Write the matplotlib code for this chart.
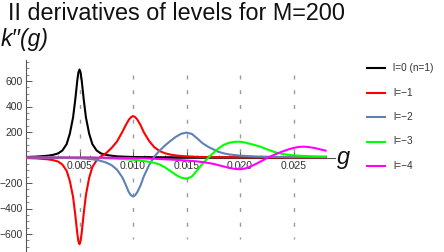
import matplotlib
matplotlib.use("Agg")
import matplotlib.pyplot as plt
from matplotlib.lines import Line2D
from matplotlib.ticker import MultipleLocator, FixedLocator

plt.rcParams['font.family'] = ['Liberation Sans', 'DejaVu Sans']
plt.rcParams['lines.scale_dashes'] = False

g = [0, .001, .002, .0025, .003, .0034, .0038, .0041, .0044, .0046, .0048, .0049,
     .005, .0051, .0052, .0054, .0056, .0059, .0062, .0066, .007, .0075, .008, .0085,
     .009, .0093, .0096, .0098, .010, .0102, .0104, .0107, .011, .0115, .012, .0125,
     .013, .0135, .014, .0145, .015, .0155, .016, .0165, .017, .0175, .018, .0185,
     .019, .0195, .020, .0205, .021, .0215, .022, .0225, .023, .0235, .024, .0245,
     .025, .0255, .026, .0265, .027, .0275, .028]

k_l0 = [4, 7, 14, 20, 32, 55, 105, 188, 315, 451, 609, 668,
        690, 668, 609, 451, 315, 188, 105, 55, 32, 20, 14, 9,
        7, 6, 5, 5, 4, 4, 4, 3, 3, 3, 2, 2,
        2, 2, 1, 1, 1, 1, 1, 1, 1, 1, 1, 1,
        1, 1, 1, .5, .5, .5, .5, .5, .5, .5, .5, .5,
        .5, .5, .5, .5, .5, .5, .5]

k_l1 = [-4, -7, -14, -20, -32, -55, -105, -185, -310, -445, -600, -658,
        -680, -655, -595, -435, -295, -160, -75, -22, 8, 35, 75, 125,
        200, 250, 295, 315, 325, 317, 298, 255, 200, 130, 80, 50,
        33, 23, 16, 12, 9, 7, 5, 4, 3, 3, 2, 2,
        2, 1, 1, 1, 1, 1, 1, 1, 1, .5, .5, .5,
        .5, .5, .5, .5, .5, .5, .5]

k_l2 = [-1, -1, -2, -2, -3, -3, -4, -4, -5, -5, -6, -6,
        -6, -6, -7, -8, -9, -11, -14, -19, -27, -40, -60, -95,
        -155, -210, -270, -296, -305, -296, -272, -220, -150, -60, 8, 55,
        95, 130, 162, 186, 195, 185, 150, 112, 85, 64, 44, 32,
        24, 19, 15, 12, 10, 8, 7, 6, 5, 4, 4, 3,
        3, 3, 2, 2, 2, 2, 2]

k_l3 = [0, 0, 0, 0, 0, 0, -.5, -.5, -.5, -1, -1, -1,
        -1, -1, -1, -1, -1.5, -2, -2, -3, -4, -6, -8, -10,
        -12, -14, -15, -16, -18, -19, -21, -24, -28, -34, -42, -55,
        -78, -106, -136, -158, -166, -150, -100, -48, -5, 35, 72, 100,
        116, 123, 124, 117, 106, 95, 82, 65, 50, 36, 28, 21,
        17, 14, 12, 10, 9, 8, 7]

k_l4 = [0, 0, 0, 0, 0, 0, 0, 0, 0, 0, 0, 0,
        0, 0, 0, 0, 0, 0, -.5, -1, -1, -2, -2, -3,
        -3, -4, -4, -5, -5, -5, -6, -6, -7, -8, -10, -12,
        -14, -16, -18, -21, -24, -27, -31, -36, -42, -50, -60, -71,
        -81, -89, -92, -86, -70, -50, -28, -6, 14, 32, 48, 63,
        75, 83, 85, 81, 74, 64, 54]

series = [k_l0, k_l1, k_l2, k_l3, k_l4]
labels = ["l=0 (n=1)", "l=\u22121", "l=\u22122", "l=\u22123", "l=\u22124"]
colors = ["#000000", "#FF0000", "#5E81B5", "#00FF00", "#FF00FF"]

xticks = [0.005, 0.010, 0.015, 0.020, 0.025]
xticklabels = ["0.005", "0.010", "0.015", "0.020", "0.025"]
yticks = [-600, -400, -200, 200, 400, 600]
yticklabels = ["\u2212600", "\u2212400", "\u2212200", "200", "400", "600"]

W, H = 444, 252
fig = plt.figure(figsize=(W / 100, H / 100), dpi=100)
x0, x1 = 26, 335
ytop = 60
ax = fig.add_axes([x0 / W, 0, (x1 - x0) / W, (H - ytop) / H])
ax.patch.set_alpha(0)
xscale = 10700.0
yscale = 0.1275
y0px = 157.5
ax.set_xlim(0, (x1 - x0) / xscale)
ax.set_ylim((y0px - H) / yscale, (y0px - ytop) / yscale)

# dashed grid lines
for xv in xticks:
    ln, = ax.plot([xv, xv], [650, -640], color="#9a9a9a", lw=1.0, zorder=1)
    ln.set_dashes([2.9, 7.7])

for ys, c in zip(series, colors):
    ax.plot(g, ys, color=c, lw=1.5, zorder=3, solid_joinstyle='round')

for s in ['top', 'right']:
    ax.spines[s].set_visible(False)
ax.spines['bottom'].set_position(('data', 0))
for s in ['left', 'bottom']:
    ax.spines[s].set_color('#555555')
    ax.spines[s].set_linewidth(0.8)
    ax.spines[s].set_zorder(2)

ax.xaxis.set_major_locator(FixedLocator(xticks))
ax.set_xticklabels(xticklabels)
ax.xaxis.set_minor_locator(MultipleLocator(0.001))
ax.yaxis.set_major_locator(FixedLocator(yticks))
ax.set_yticklabels(yticklabels)
ax.yaxis.set_minor_locator(MultipleLocator(50))
ax.tick_params(which='both', direction='in', colors='#555555', labelcolor='#333333',
               labelsize=7.5)
ax.tick_params(which='major', length=4, width=0.7)
ax.tick_params(which='minor', length=2, width=0.5)
ax.tick_params(axis='x', pad=2.5)
ax.tick_params(axis='y', pad=2)

fig.text(8 / W, 1 - 20 / H, "II derivatives of levels for M=200", fontsize=16.8,
         ha='left', va='baseline', color='#111111')
fig.text(1 / W, 1 - 46 / H, "k\u2032\u2032(g)", fontsize=16.5, style='italic',
         ha='left', va='baseline', color='#111111')
fig.text(337 / W, 1 - 164 / H, "g", fontsize=17, style='italic',
         ha='left', va='baseline', color='#111111')

leg_y = [68, 93, 117, 141.5, 166]
for yy, lab, c in zip(leg_y, labels, colors):
    fig.add_artist(Line2D([367 / W, 385 / W], [1 - yy / H, 1 - yy / H], color=c, lw=1.5))
    fig.text(393 / W, 1 - yy / H, lab, fontsize=7.2, ha='left', va='center', color='#333333')

fig.savefig("out.png", dpi=100)
